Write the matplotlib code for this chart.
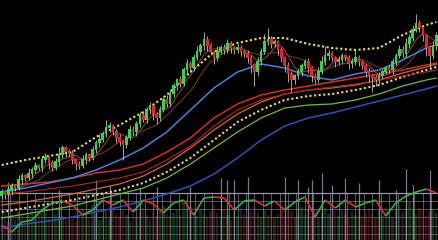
import numpy as np
import pandas as pd
import matplotlib
matplotlib.use('Agg')
import matplotlib.pyplot as plt
from matplotlib.collections import LineCollection

# candle closes (price units)
closes = [48, 45, 50, 54, 52, 60, 64, 62, 66, 70,
          74, 72, 80, 82, 77, 72, 78, 85, 92, 88,
          86, 80, 76, 74, 80, 85, 82, 90, 97, 100,
          106, 112, 114, 108, 102, 98, 95, 102, 110, 108,
          116, 124, 120, 130, 134, 125, 122, 130, 140, 136,
          146, 154, 160, 156, 170, 176, 172, 182, 188, 194,
          200, 194, 188, 182, 188, 192, 190, 196, 192, 190,
          192, 188, 186, 182, 175, 168, 178, 188, 198, 200,
          196, 198, 190, 182, 174, 166, 160, 164, 168, 174,
          178, 172, 164, 160, 168, 178, 184, 186, 182, 178,
          180, 184, 182, 176, 178, 182, 178, 174, 168, 164,
          162, 160, 164, 168, 172, 170, 178, 184, 190, 186,
          196, 202, 210, 216, 212, 204, 192, 184, 194, 204]
first_open = 44

wick_up = [3, 2, 4, 3, 2, 5, 3, 2, 6, 3,
           4, 2, 3, 5, 2, 3, 4, 8, 3, 2,
           3, 4, 2, 3, 5, 3, 2, 4, 3, 6,
           3, 8, 4, 2, 3, 4, 2, 3, 5, 4,
           3, 4, 5, 3, 4, 2, 3, 4, 3, 5,
           4, 3, 2, 4, 3, 5, 3, 4, 6, 3,
           8, 4, 3, 2, 6, 3, 4, 5, 3, 2,
           4, 3, 2, 4, 3, 2, 5, 4, 8, 12,
           4, 3, 2, 3, 2, 4, 3, 2, 4, 3,
           3, 4, 2, 3, 5, 6, 10, 4, 3, 2,
           4, 3, 2, 3, 4, 8, 3, 2, 3, 4,
           2, 3, 4, 3, 2, 3, 4, 3, 5, 4,
           6, 4, 5, 10, 4, 3, 2, 3, 5, 4]
wick_dn = [3, 4, 2, 5, 3, 2, 4, 3, 2, 4,
           3, 2, 4, 3, 6, 3, 2, 4, 3, 5,
           3, 4, 6, 3, 2, 4, 3, 2, 3, 4,
           2, 3, 4, 3, 5, 4, 15, 3, 2, 3,
           4, 3, 2, 3, 4, 5, 6, 3, 2, 3,
           2, 3, 4, 3, 2, 3, 4, 3, 2, 3,
           4, 5, 3, 6, 3, 2, 4, 3, 5, 4,
           3, 4, 3, 5, 8, 14, 4, 3, 2, 3,
           4, 3, 5, 4, 6, 8, 12, 4, 3, 4,
           3, 5, 6, 4, 3, 2, 3, 4, 3, 5,
           3, 4, 3, 5, 4, 3, 4, 3, 5, 6,
           14, 6, 4, 3, 2, 3, 4, 3, 2, 3,
           3, 4, 3, 2, 4, 5, 8, 12, 3, 4]

# indicator lines, sampled every 7 candles (last one at candle 129)
line_idx = [0, 7, 14, 21, 28, 35, 42, 49, 56, 63, 70, 77, 84, 91, 98, 105, 112, 119, 126, 129]
env_upper = [75, 80, 84, 88, 103, 115, 128, 145, 168, 188, 197, 202, 202, 196, 192, 190, 192, 205, 215, 218]
ma_blue = [48, 52, 57, 62, 70, 80, 92, 108, 130, 152, 168, 176, 172, 164, 160, 166, 170, 180, 192, 195]
ma_red = [54, 56, 58, 62, 67, 70, 76, 88, 102, 122, 136, 145, 150, 154, 158, 162, 166, 170, 175, 177]
ma_red2 = [46, 48, 51, 54, 58, 62, 68, 80, 94, 114, 130, 140, 146, 150, 153, 156, 160, 164, 168, 170]
ma_orange = [35, 38, 42, 46, 51, 56, 64, 76, 92, 110, 126, 138, 146, 150, 152, 155, 160, 167, 173, 176]
env_lower = [28, 32, 36, 40, 45, 50, 57, 68, 82, 100, 118, 130, 140, 144, 146, 150, 155, 163, 170, 173]
ma_green = [22, 26, 30, 34, 40, 46, 52, 62, 76, 92, 108, 122, 132, 135, 136, 140, 146, 154, 160, 162]
ma_navy = [12, 16, 19, 23, 28, 33, 39, 46, 54, 66, 82, 100, 114, 122, 127, 133, 139, 145, 151, 154]

# lower panel: volume and oscillator
volume = [22, 30, 18, 25, 20, 28, 24, 19, 26, 30,
          21, 25, 33, 27, 22, 18, 26, 31, 24, 20,
          28, 23, 19, 25, 30, 27, 22, 35, 26, 20,
          24, 29, 21, 33, 26, 22, 30, 25, 19, 27,
          23, 28, 32, 25, 21, 29, 24, 30, 34, 26,
          22, 27, 31, 25, 38, 40, 33, 28, 24, 30,
          26, 22, 29, 35, 27, 23, 31, 25, 20, 28,
          24, 32, 26, 21, 29, 33, 27, 22, 30, 25,
          28, 23, 26, 31, 24, 35, 29, 22, 27, 33,
          25, 30, 24, 28, 22, 27, 32, 26, 21, 29,
          24, 31, 26, 22, 28, 25, 30, 23, 27, 32,
          26, 22, 29, 24, 31, 27, 23, 30, 35, 28,
          33, 38, 30, 26, 32, 29, 24, 28, 31, 27]
spike_idx = [2, 17, 28, 32, 41, 46, 56, 65, 67, 69, 73, 84, 88, 91, 92, 95, 98, 102, 106, 112, 117, 120, 122, 127]
spike_val = [58, 50, 60, 55, 52, 53, 53, 62, 60, 60, 63, 63, 60, 53, 60, 67, 55, 62, 57, 60, 50, 71, 55, 70]
osc_idx = list(range(0, 130, 3))
osc_val = [15, 8, 18, 20, 30, 37, 39, 35, 25, 30, 40, 35, 40, 28, 40, 36, 27, 37, 40, 25, 42, 43,
           42, 30, 39, 40, 34, 39, 30, 38, 43, 23, 40, 32, 40, 33, 37, 40, 24, 37, 44, 48, 51, 47]

closes = np.array(closes, dtype=float)
n = len(closes)
x = np.arange(n)
opens = np.r_[first_open, closes[:-1]]
highs = np.maximum(opens, closes) + np.array(wick_up)
lows = np.minimum(opens, closes) - np.array(wick_dn)
up = closes >= opens

fig = plt.figure(figsize=(4.38, 2.4), dpi=100, facecolor='black')
ax = fig.add_axes([0, 0, 1, 1])
ax.set_facecolor('black')
ax.set_xlim(-0.5, n - 0.5)
ax.set_ylim(0, 240)
ax.axis('off')

# lower grid
grid_c = '#c8c8e6'
for gx in np.arange(0, n, 2.5):
    ax.vlines(gx, 0, 47, color=grid_c, lw=0.6, alpha=0.5, zorder=1)
for gy in [6, 14, 23, 31, 39]:
    ax.hlines(gy, -0.5, n, color=grid_c, lw=0.6, alpha=0.5, zorder=1)
ax.hlines(47, -0.5, n, color=grid_c, lw=0.9, alpha=0.75, zorder=1)

# volume
vol_col = np.where(up, '#2a7a30', '#8a2a30')
ax.bar(x, volume, width=0.7, color=vol_col, alpha=0.4, zorder=1)
ax.vlines(spike_idx, 0, spike_val, color='#a0a0b4', lw=0.9, alpha=0.75, zorder=1)

# oscillator
pts = np.column_stack([osc_idx, osc_val])
segs = np.stack([pts[:-1], pts[1:]], axis=1)
seg_col = ['#38b048' if b[1] >= a[1] else '#d83038' for a, b in zip(pts[:-1], pts[1:])]
ax.add_collection(LineCollection(segs, colors=seg_col, linewidths=1.2, zorder=3))

# short moving averages from the closes
cs = pd.Series(closes)
ax.plot(x, cs.rolling(6, min_periods=1).mean(), color='#9a4535', lw=0.7, zorder=2)
ax.plot(x, cs.rolling(12, min_periods=1).mean(), color='#7a3a30', lw=0.7, zorder=2)

# long indicator lines
ax.plot(line_idx, ma_navy, color='#3050b0', lw=1.1, zorder=2)
ax.plot(line_idx, ma_green, color='#70b83c', lw=0.9, zorder=2)
ax.plot(line_idx, env_lower, color='#f0d868', lw=1.5, ls=(0, (1, 1.2)), zorder=2)
ax.plot(line_idx, ma_orange, color='#d06a28', lw=0.9, zorder=2)
ax.plot(line_idx, ma_red2, color='#a02418', lw=0.9, zorder=2)
ax.plot(line_idx, ma_red, color='#d0301f', lw=1.1, zorder=2)
ax.plot(line_idx, ma_blue, color='#4a80d0', lw=1.1, zorder=2)
ax.plot(line_idx, env_upper, color='#e8e45a', lw=1.5, ls=(0, (1, 1.2)), zorder=2)

# candles
ax.vlines(x, lows, highs, color='#c0c0c0', lw=0.6, zorder=4)
body_col = np.where(up, '#2ed84a', '#e8222c')
ax.bar(x, np.abs(closes - opens) + 0.8, bottom=np.minimum(opens, closes), width=0.78,
       color=body_col, zorder=5)

fig.savefig('out.png', dpi=100, facecolor='black')
